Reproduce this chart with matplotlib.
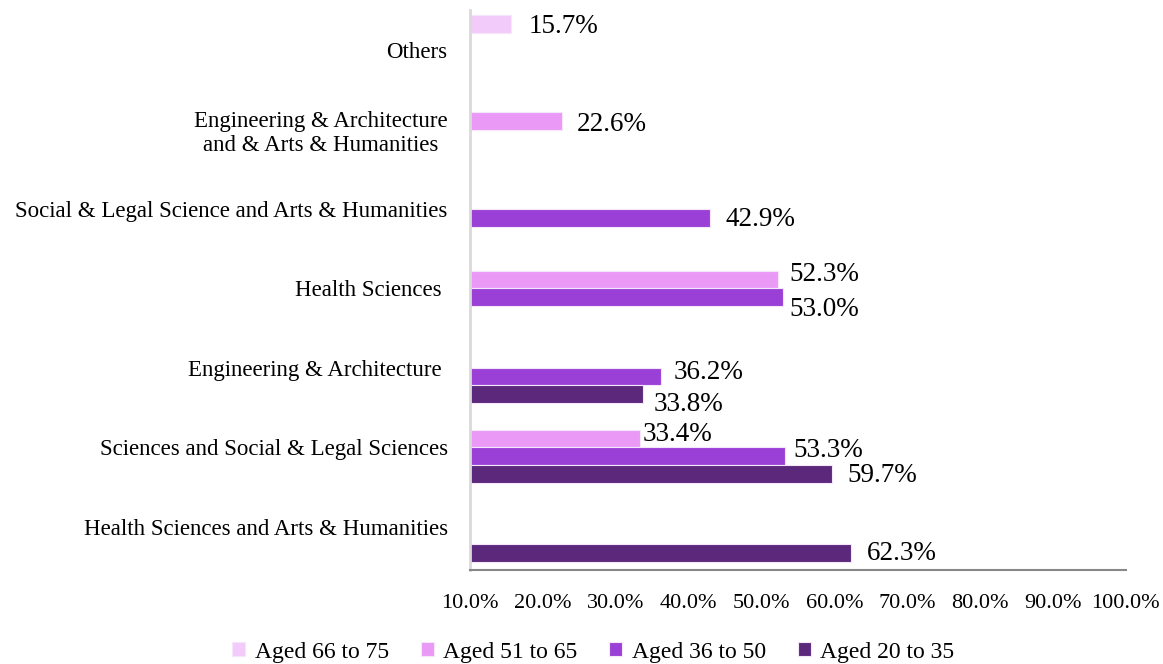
import matplotlib
matplotlib.use('Agg')
import numpy as np
import matplotlib.pyplot as plt

plt.rcParams['font.family'] = ['Liberation Serif', 'DejaVu Serif']

# categories from top to bottom
categories = [
    'Others',
    'Engineering & Architecture\nand & Arts & Humanities',
    'Social & Legal Science and Arts & Humanities',
    'Health Sciences ',
    'Engineering & Architecture ',
    'Sciences and Social & Legal Sciences',
    'Health Sciences and Arts & Humanities',
]
series_names = ['Aged 66 to 75', 'Aged 51 to 65', 'Aged 36 to 50', 'Aged 20 to 35']
colors = ['#f2cbfa', '#ea99f7', '#9a40d6', '#5b287c']

# values in %, None where no bar
aged_66_75 = [15.7, None, None, None, None, None, None]
aged_51_65 = [None, 22.6, None, 52.3, None, 33.4, None]
aged_36_50 = [None, None, 42.9, 53.0, 36.2, 53.3, None]
aged_20_35 = [None, None, None, None, 33.8, 59.7, 62.3]
series = [aged_66_75, aged_51_65, aged_36_50, aged_20_35]

xticks = [10, 20, 30, 40, 50, 60, 70, 80, 90, 100]

# label nudges in pixels (dx, dy down), keyed by (category index, series index)
nudge = {
    (0, 0): (17, 3), (1, 1): (15, 4), (2, 2): (16, 2),
    (3, 1): (11, -5), (3, 2): (6, 12),
    (4, 2): (13, -4), (4, 3): (10, 10),
    (5, 1): (2, -4), (5, 2): (8, -6), (5, 3): (15, 2),
    (6, 3): (16, 0),
}

fig = plt.figure(figsize=(11.63, 6.64), dpi=100)
ax = fig.add_axes([0.404, 0.1416, 0.564, 0.8434])

slot = 17.5 / 79
bar_h = slot
y_centers = np.arange(len(categories))

for j, (name, vals, col) in enumerate(zip(series_names, series, colors)):
    ys, ws = [], []
    for i, v in enumerate(vals):
        if v is not None:
            ys.append(y_centers[i] + (j - 1.5) * slot)
            ws.append(v - 10)
    ax.barh(ys, ws, left=10, height=bar_h, color=col, edgecolor='#f5e6fa',
            linewidth=0.8, label=name)
    for i, v in enumerate(vals):
        if v is None:
            continue
        dx, dy = nudge.get((i, j), (13, 0))
        ax.annotate(f'{v:.1f}%', xy=(v, y_centers[i] + (j - 1.5) * slot),
                    xytext=(dx * 0.72, -dy * 0.72), textcoords='offset points',
                    ha='left', va='center', fontsize=19.5, color='black')

ax.set_ylim(len(categories) - 1 + 0.544, -0.506)
ax.set_xlim(10, 100)
ax.set_yticks(y_centers)
ax.set_yticklabels(categories, fontsize=16.5, linespacing=1.2)
for t in ax.get_yticklabels():
    t.set_multialignment('center')
ax.set_xticks(xticks)
ax.set_xticklabels([f'{t:.1f}%' for t in xticks], fontsize=16)
ax.tick_params(axis='y', length=0, pad=16)
ax.tick_params(axis='x', length=0, pad=17)

for s in ['top', 'right']:
    ax.spines[s].set_visible(False)
ax.spines['left'].set_color('#d9d9d9')
ax.spines['left'].set_linewidth(2)
ax.spines['bottom'].set_color('#888888')
ax.spines['bottom'].set_linewidth(1.5)

fig.legend(loc='lower center', bbox_to_anchor=(0.51, -0.03), ncol=4, frameon=False,
           fontsize=17, handlelength=0.55, handleheight=0.55, handletextpad=0.4,
           columnspacing=1.35)

plt.savefig('out.png', dpi=100)
